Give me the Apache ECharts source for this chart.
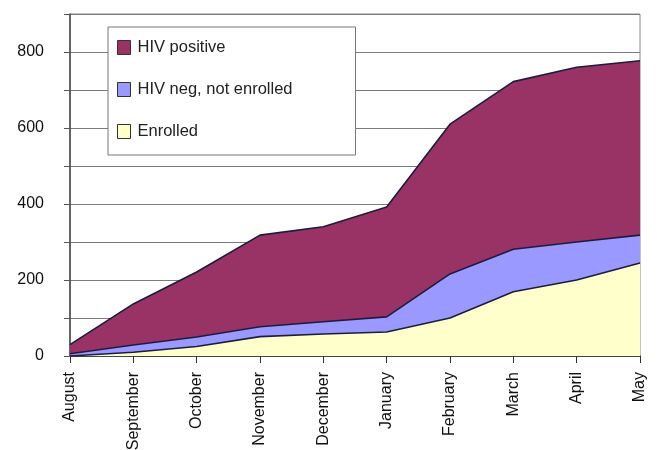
<!DOCTYPE html>
<html><head><meta charset="utf-8">
<script src="https://cdn.jsdelivr.net/npm/echarts@6/dist/echarts.min.js"></script>
<style>html,body{margin:0;padding:0;background:#fff}#c{width:658px;height:450px}</style>
</head><body><div id="c"></div>
<script>
const categories = ['August','September','October','November','December','January','February','March','April','May'];
const enrolled    = [0, 10, 25, 51, 58, 63, 100, 169, 200, 245];
const hivNeg      = [6, 19, 25, 26, 32, 40, 116, 112, 100, 73];
const hivPositive = [24, 108, 171, 241, 250, 289, 394, 441, 460, 459];
const yTicks = [0, 200, 400, 600, 800];

const FONT = 'Liberation Sans, Arial, sans-serif';
const lineCol = '#1c1c3c';
const chart = echarts.init(document.getElementById('c'), null, {renderer:'canvas'});
chart.setOption({
  animation: false,
  backgroundColor: '#fff',
  textStyle: {fontFamily: FONT},
  grid: {left: 70, right: 18, top: 14, bottom: 94, show: true, borderColor: '#8a8a8a', borderWidth: 1,
         containLabel: false, outerBoundsMode: 'none'},
  legend: {
    data: ['HIV positive', 'HIV neg, not enrolled', 'Enrolled'],
    orient: 'vertical', left: 108, top: 27,
    padding: [12, 63, 15, 9],
    itemGap: 25, itemWidth: 13, itemHeight: 14, icon: 'rect',
    backgroundColor: '#fff', borderColor: '#777', borderWidth: 1,
    itemStyle: {borderColor: '#333', borderWidth: 1},
    textStyle: {fontSize: 16.5, color: '#222', fontFamily: FONT, padding: [0, 0, 0, 2]}
  },
  xAxis: {
    type: 'category', data: categories, boundaryGap: false,
    axisLine: {lineStyle: {color: '#333', width: 1.5}},
    axisTick: {show: true, length: 7, lineStyle: {color: '#333'}, alignWithLabel: true},
    axisLabel: {rotate: 90, fontSize: 16, color: '#111', margin: 16, interval: 0, fontFamily: FONT},
    splitLine: {show: false}
  },
  yAxis: {
    type: 'value', min: 0, max: 900, interval: 100,
    axisLine: {show: true, lineStyle: {color: '#444', width: 1.5}},
    axisTick: {show: true, length: 6, lineStyle: {color: '#555'}},
    axisLabel: {fontSize: 16, color: '#111', margin: 26, fontFamily: FONT,
      formatter: v => yTicks.includes(v) ? String(v) : ''},
    splitLine: {show: true, lineStyle: {color: '#7a7a7a', width: 1}}
  },
  series: [
    {name: 'Enrolled', type: 'line', stack: 't', data: enrolled, symbol: 'none', z: 4,
     lineStyle: {color: lineCol, width: 1.6}, itemStyle: {color: '#FFFFCC'}, areaStyle: {color: '#FFFFCC', opacity: 1}},
    {name: 'HIV neg, not enrolled', type: 'line', stack: 't', data: hivNeg, symbol: 'none', z: 3,
     lineStyle: {color: lineCol, width: 1.6}, itemStyle: {color: '#9999FF'}, areaStyle: {color: '#9999FF', opacity: 1}},
    {name: 'HIV positive', type: 'line', stack: 't', data: hivPositive, symbol: 'none', z: 2,
     lineStyle: {color: lineCol, width: 1.6}, itemStyle: {color: '#993366'}, areaStyle: {color: '#993366', opacity: 1}}
  ]
});
</script></body></html>
